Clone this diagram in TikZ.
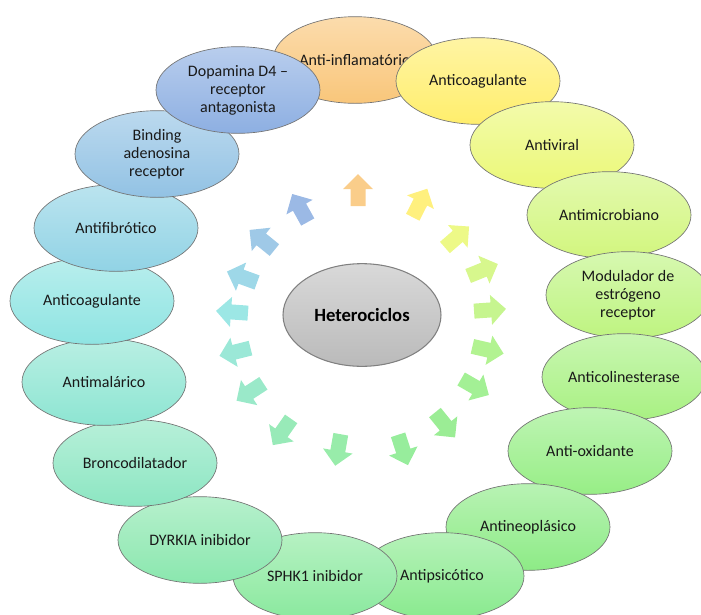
\documentclass[tikz,border=0pt]{standalone}
\usepackage{fontspec}
\setmainfont{Carlito}
\usetikzlibrary{shapes.geometric}

% bubble colours (bottom of the gradient)
\definecolor{cInfl}{HTML}{F9C67A}
\definecolor{cCoagR}{HTML}{FFEE6C}
\definecolor{cViral}{HTML}{EBF877}
\definecolor{cMicro}{HTML}{D2F67E}
\definecolor{cModul}{HTML}{BEF480}
\definecolor{cColin}{HTML}{A8F182}
\definecolor{cOxid}{HTML}{97EE86}
\definecolor{cNeo}{HTML}{8DEB86}
\definecolor{cPsic}{HTML}{89EA8E}
\definecolor{cSphk}{HTML}{8AE99E}
\definecolor{cDyrk}{HTML}{8AE7AE}
\definecolor{cBronc}{HTML}{8CE6C2}
\definecolor{cMalar}{HTML}{8DE5D2}
\definecolor{cCoagL}{HTML}{8EE4E2}
\definecolor{cFibr}{HTML}{91D3E5}
\definecolor{cBind}{HTML}{92C2E4}
\definecolor{cDopa}{HTML}{8DAFE2}

\tikzset{
  bubble/.style={ellipse, draw=black!55, line width=0.5pt,
    top color=#1!62!white, bottom color=#1,
    minimum width=123pt, minimum height=65pt, inner sep=0pt,
    align=center, text=black!90, font=\fontsize{12}{13.5}\selectfont},
  hub/.style={ellipse, draw=black!50, line width=0.8pt,
    top color=black!15, bottom color=black!27,
    minimum width=118.5pt, minimum height=77pt, inner sep=0pt,
    text=black, font=\bfseries\fontsize{14}{16}\selectfont},
  blockarrow/.style={fill=#1!88!white, draw=none}
}

\begin{document}
\begin{tikzpicture}[x=0.75pt,y=0.75pt,yscale=-1,xscale=1]
\useasboundingbox (0,0) rectangle (701,615);

%Shape: Ellipse (centre)
\draw (362,315) node [hub] (hetero) {Heterociclos};

%Shapes: Block arrows round the centre
\foreach \px/\py/\ang/\col in {358/190/90/cInfl, 420/203/63/cCoagR, 457/237/41/cViral,
    483/270/22/cMicro, 490/310/4/cModul, 488/350/-13/cColin, 475/387/-30/cOxid,
    445/425/-51/cNeo, 403/450/-72/cPsic, 338/450/-100/cSphk, 282/432/-125/cDyrk,
    250/392/-147/cBronc, 235/352/-166/cMalar, 232/312/176/cCoagL, 242/277/160/cFibr,
    262/240/141/cBind, 300/208/119/cDopa}
  \fill [blockarrow=\col, shift={(\px,\py)}, rotate=-\ang]
    (-16,-7.5) -- (1,-7.5) -- (1,-15) -- (16,0) -- (1,15) -- (1,7.5) -- (-16,7.5) -- cycle ;

%Shapes: Ellipses, clockwise from the top
% Text Node
\draw (355,60) node [bubble=cInfl] (infl) {Anti-inflamatório};
% Text Node
\draw (478,81) node [bubble=cCoagR] (coagR) {Anticoagulante};
% Text Node
\draw (552,145) node [bubble=cViral] (viral) {Antiviral};
% Text Node
\draw (609,215) node [bubble=cMicro] (micro) {Antimicrobiano};
% Text Node
\draw (628,295) node [bubble=cModul] (modul) {Modulador de\\estrógeno\\receptor};
% Text Node
\draw (624,377) node [bubble=cColin] (colin) {Anticolinesterase};
% Text Node
\draw (590,451) node [bubble=cOxid] (oxid) {Anti-oxidante};
% Text Node
\draw (528,527) node [bubble=cNeo] (neo) {Antineoplásico};
% Text Node
\draw (442,576) node [bubble=cPsic] (psic) {Antipsicótico};
% Text Node
\draw (315,576) node [bubble=cSphk] (sphk) {SPHK1 inibidor};
% Text Node
\draw (200,540) node [bubble=cDyrk] (dyrk) {DYRKIA inibidor};
% Text Node
\draw (135,463) node [bubble=cBronc] (bronc) {Broncodilatador};
% Text Node
\draw (104,382) node [bubble=cMalar] (malar) {Antimalárico};
% Text Node
\draw (92,301) node [bubble=cCoagL] (coagL) {Anticoagulante};
% Text Node
\draw (116,228) node [bubble=cFibr] (fibr) {Antifibrótico};
% Text Node
\draw (157,154) node [bubble=cBind] (bind) {Binding\\adenosina\\receptor};
% Text Node
\draw (238,90) node [bubble=cDopa] (dopa) {Dopamina D4 –\\receptor\\antagonista};

\end{tikzpicture}
\end{document}
